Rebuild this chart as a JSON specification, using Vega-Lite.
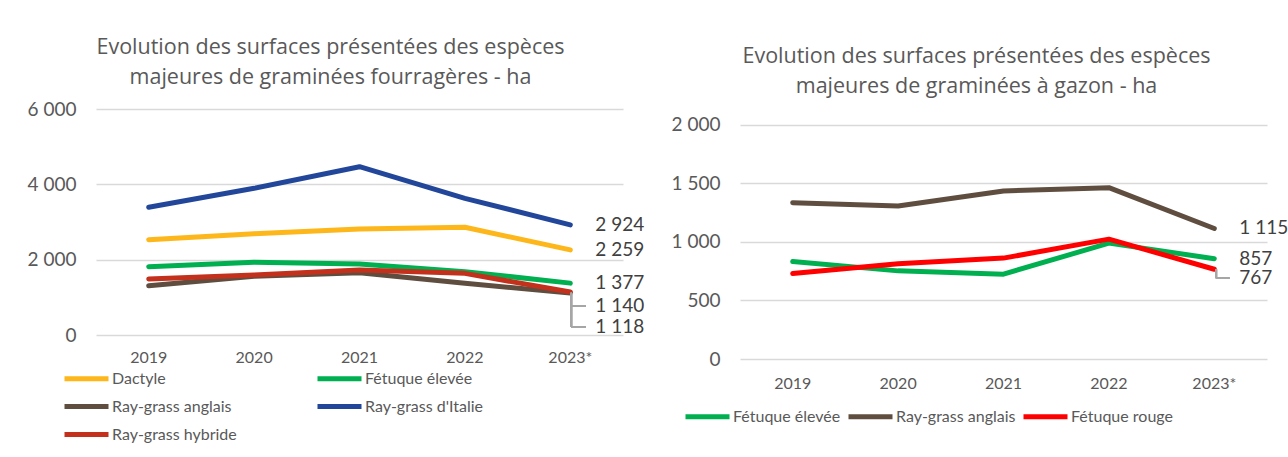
{
  "$schema": "https://vega.github.io/schema/vega-lite/v6.json",
  "background": "white",
  "padding": {"left": 27, "top": 36, "right": 0, "bottom": 0},
  "bounds": "flush",
  "spacing": 117,
  "resolve": {"scale": {"color": "independent"}, "legend": {"color": "independent"}},
  "config": {
    "font": "Lato",
    "view": {"stroke": null},
    "locale": {"number": {"decimal": ",", "thousands": " ", "grouping": [3], "currency": ["", " €"]}},
    "axis": {"labelColor": "#595959", "domain": false, "ticks": false, "gridColor": "#d9d9d9", "gridWidth": 1.5, "title": null},
    "axisX": {"labelFontSize": 16, "labelAngle": 0, "grid": false},
    "axisY": {"labelFontSize": 19, "labelPadding": 20, "format": ",d"},
    "legend": {"labelColor": "#595959", "labelFontSize": 16, "symbolType": "M-2,0H2", "symbolSize": 484, "symbolStrokeWidth": 5, "title": null, "orient": "none", "labelOffset": 12, "direction": "horizontal"},
    "title": {"color": "#595959", "font": "Open Sans", "fontSize": 21.5, "fontWeight": "normal", "lineHeight": 30, "offset": 12},
    "text": {"font": "Lato"}
  },
  "datasets": {
    "fourrageres": [
      {"species": "Dactyle", "year": "2019", "value": 2530},
      {"species": "Dactyle", "year": "2020", "value": 2690},
      {"species": "Dactyle", "year": "2021", "value": 2814},
      {"species": "Dactyle", "year": "2022", "value": 2859},
      {"species": "Dactyle", "year": "2023*", "value": 2259},
      {"species": "Fétuque élevée", "year": "2019", "value": 1813},
      {"species": "Fétuque élevée", "year": "2020", "value": 1930},
      {"species": "Fétuque élevée", "year": "2021", "value": 1885},
      {"species": "Fétuque élevée", "year": "2022", "value": 1681},
      {"species": "Fétuque élevée", "year": "2023*", "value": 1377},
      {"species": "Ray-grass anglais", "year": "2019", "value": 1309},
      {"species": "Ray-grass anglais", "year": "2020", "value": 1560},
      {"species": "Ray-grass anglais", "year": "2021", "value": 1654},
      {"species": "Ray-grass anglais", "year": "2022", "value": 1372},
      {"species": "Ray-grass anglais", "year": "2023*", "value": 1118},
      {"species": "Ray-grass d'Italie", "year": "2019", "value": 3390},
      {"species": "Ray-grass d'Italie", "year": "2020", "value": 3894},
      {"species": "Ray-grass d'Italie", "year": "2021", "value": 4468},
      {"species": "Ray-grass d'Italie", "year": "2022", "value": 3629},
      {"species": "Ray-grass d'Italie", "year": "2023*", "value": 2924},
      {"species": "Ray-grass hybride", "year": "2019", "value": 1487},
      {"species": "Ray-grass hybride", "year": "2020", "value": 1590},
      {"species": "Ray-grass hybride", "year": "2021", "value": 1725},
      {"species": "Ray-grass hybride", "year": "2022", "value": 1637},
      {"species": "Ray-grass hybride", "year": "2023*", "value": 1140}
    ],
    "gazon": [
      {"species": "Fétuque élevée", "year": "2019", "value": 833},
      {"species": "Fétuque élevée", "year": "2020", "value": 753},
      {"species": "Fétuque élevée", "year": "2021", "value": 725},
      {"species": "Fétuque élevée", "year": "2022", "value": 990},
      {"species": "Fétuque élevée", "year": "2023*", "value": 857},
      {"species": "Ray-grass anglais", "year": "2019", "value": 1336},
      {"species": "Ray-grass anglais", "year": "2020", "value": 1308},
      {"species": "Ray-grass anglais", "year": "2021", "value": 1436},
      {"species": "Ray-grass anglais", "year": "2022", "value": 1464},
      {"species": "Ray-grass anglais", "year": "2023*", "value": 1115},
      {"species": "Fétuque rouge", "year": "2019", "value": 730},
      {"species": "Fétuque rouge", "year": "2020", "value": 813},
      {"species": "Fétuque rouge", "year": "2021", "value": 862},
      {"species": "Fétuque rouge", "year": "2022", "value": 1024},
      {"species": "Fétuque rouge", "year": "2023*", "value": 767}
    ]
  },
  "hconcat": [
    {
      "width": 527,
      "height": 226,
      "title": {"text": ["Evolution des surfaces présentées des espèces", "majeures de graminées fourragères - ha"], "dx": -29},
      "data": {"name": "fourrageres"},
      "encoding": {
        "x": {"field": "year", "type": "ordinal", "sort": null, "axis": {"labelPadding": 14}},
        "y": {"field": "value", "type": "quantitative", "scale": {"domain": [0, 6000]}, "axis": {"values": [0, 2000, 4000, 6000]}}
      },
      "layer": [
        {
          "mark": {"type": "line", "strokeWidth": 5, "strokeCap": "round", "strokeJoin": "round"},
          "encoding": {
            "color": {"field": "species", "type": "nominal",
              "scale": {"domain": ["Dactyle", "Fétuque élevée", "Ray-grass anglais", "Ray-grass d'Italie", "Ray-grass hybride"],
                        "range": ["#FDB71A", "#00B050", "#5F4E40", "#22479A", "#C3301B"]},
              "legend": {"columns": 2, "columnPadding": 70, "rowPadding": 4, "legendX": -23, "legendY": 256}}
          }
        },
        {
          "transform": [{"filter": "datum.year == '2023*' && (datum.species == 'Dactyle' || datum.species == 'Fétuque élevée' || datum.species == \"Ray-grass d'Italie\")"}],
          "mark": {"type": "text", "align": "left", "baseline": "middle", "dx": 25, "fontSize": 19, "color": "#404040"},
          "encoding": {"text": {"field": "value", "type": "quantitative", "format": ",d"}}
        },
        {
          "transform": [{"filter": "datum.year == '2023*' && datum.species == 'Ray-grass hybride'"}],
          "mark": {"type": "text", "align": "left", "baseline": "middle", "dx": 25, "dy": 14, "fontSize": 19, "color": "#404040"},
          "encoding": {"text": {"field": "value", "type": "quantitative", "format": ",d"}}
        },
        {
          "transform": [{"filter": "datum.year == '2023*' && datum.species == 'Ray-grass anglais'"}],
          "mark": {"type": "text", "align": "left", "baseline": "middle", "dx": 25, "dy": 34, "fontSize": 19, "color": "#404040"},
          "encoding": {"text": {"field": "value", "type": "quantitative", "format": ",d"}}
        },
        {
          "mark": {"type": "rule", "color": "#a6a6a6", "strokeWidth": 1.5, "xOffset": 1},
          "encoding": {"x": {"datum": "2023*"}, "y": {"datum": 1118}, "y2": {"datum": 212}}
        },
        {
          "mark": {"type": "rule", "color": "#a6a6a6", "strokeWidth": 1.5, "xOffset": 1, "x2Offset": 15},
          "encoding": {"x": {"datum": "2023*"}, "x2": {"datum": "2023*"}, "y": {"datum": 770}}
        },
        {
          "mark": {"type": "rule", "color": "#a6a6a6", "strokeWidth": 1.5, "xOffset": 1, "x2Offset": 15},
          "encoding": {"x": {"datum": "2023*"}, "x2": {"datum": "2023*"}, "y": {"datum": 212}}
        }
      ]
    },
    {
      "width": 527,
      "height": 250,
      "title": {"text": ["Evolution des surfaces présentées des espèces", "majeures de graminées à gazon - ha"], "dx": -27},
      "data": {"name": "gazon"},
      "encoding": {
        "x": {"field": "year", "type": "ordinal", "sort": null, "axis": {"labelPadding": 16}},
        "y": {"field": "value", "type": "quantitative", "scale": {"domain": [0, 2136]}, "axis": {"values": [0, 500, 1000, 1500, 2000]}}
      },
      "layer": [
        {
          "mark": {"type": "line", "strokeWidth": 5, "strokeCap": "round", "strokeJoin": "round"},
          "encoding": {
            "color": {"field": "species", "type": "nominal",
              "scale": {"domain": ["Fétuque élevée", "Ray-grass anglais", "Fétuque rouge"],
                        "range": ["#00B050", "#5F4E40", "#FF0000"]},
              "legend": {"columnPadding": -3, "legendX": -46, "legendY": 294}}
          }
        },
        {
          "transform": [{"filter": "datum.year == '2023*' && datum.species != 'Fétuque rouge'"}],
          "mark": {"type": "text", "align": "left", "baseline": "middle", "dx": 25, "fontSize": 19, "color": "#404040"},
          "encoding": {"text": {"field": "value", "type": "quantitative", "format": ",d"}}
        },
        {
          "transform": [{"filter": "datum.year == '2023*' && datum.species == 'Fétuque rouge'"}],
          "mark": {"type": "text", "align": "left", "baseline": "middle", "dx": 25, "dy": 9, "fontSize": 19, "color": "#404040"},
          "encoding": {"text": {"field": "value", "type": "quantitative", "format": ",d"}}
        },
        {
          "mark": {"type": "rule", "color": "#a6a6a6", "strokeWidth": 1.5, "xOffset": 2},
          "encoding": {"x": {"datum": "2023*"}, "y": {"datum": 767}, "y2": {"datum": 691}}
        },
        {
          "mark": {"type": "rule", "color": "#a6a6a6", "strokeWidth": 1.5, "xOffset": 2, "x2Offset": 15},
          "encoding": {"x": {"datum": "2023*"}, "x2": {"datum": "2023*"}, "y": {"datum": 691}}
        }
      ]
    }
  ]
}
